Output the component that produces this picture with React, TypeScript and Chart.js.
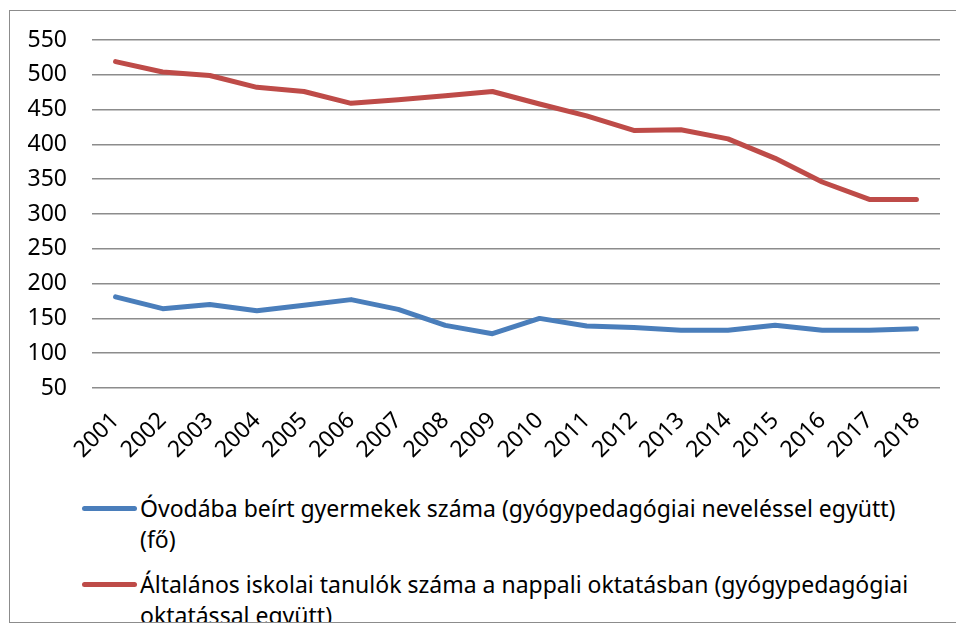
import React, { useEffect, useRef } from "react";
import { Chart, registerables } from "chart.js";

Chart.register(...registerables);

const years = ["2001","2002","2003","2004","2005","2006","2007","2008","2009","2010","2011","2012","2013","2014","2015","2016","2017","2018"];
const kindergarten = [181, 164, 170, 161, 169, 177, 163, 140, 128, 150, 139, 137, 133, 133, 140, 133, 133, 135];
const primary = [519, 504, 499, 482, 476, 459, 464, 470, 476, 458, 441, 420, 421, 408, 380, 346, 321, 321];
const seriesNames = [
  "Óvodába beírt gyermekek száma (gyógypedagógiai neveléssel együtt) (fő)",
  "Általános iskolai tanulók száma a nappali oktatásban (gyógypedagógiai oktatással együtt)",
];
const colors = ["#4A7EBB", "#BE4B48"];
const yMin = 50;
const yMax = 550;
const yStep = 50;

const FONT = "'Noto Sans', 'Open Sans', sans-serif";

export default function App() {
  const ref = useRef<HTMLCanvasElement | null>(null);

  useEffect(() => {
    const canvas = ref.current;
    if (!canvas) return;
    const chart = new Chart(canvas, {
      type: "line",
      data: {
        labels: years,
        datasets: [
          {
            label: seriesNames[0],
            data: kindergarten,
            borderColor: colors[0],
            backgroundColor: colors[0],
            borderWidth: 5,
            pointRadius: 0,
            tension: 0,
            borderCapStyle: "round",
            borderJoinStyle: "round",
          },
          {
            label: seriesNames[1],
            data: primary,
            borderColor: colors[1],
            backgroundColor: colors[1],
            borderWidth: 5,
            pointRadius: 0,
            tension: 0,
            borderCapStyle: "round",
            borderJoinStyle: "round",
          },
        ],
      },
      options: {
        responsive: false,
        animation: false,
        devicePixelRatio: 1,
        layout: { padding: { top: 29, right: 16, left: 0, bottom: 0 } },
        plugins: {
          legend: { display: false },
          tooltip: { enabled: false },
        },
        scales: {
          x: {
            offset: true,
            grid: { display: false, drawTicks: false },
            border: { display: false },
            ticks: {
              minRotation: 45,
              maxRotation: 45,
              autoSkip: false,
              padding: 19,
              color: "#000",
              font: { family: FONT, size: 23 },
            },
            afterFit: (s: any) => {
              s.height = 88;
            },
          },
          y: {
            min: yMin,
            max: yMax,
            grid: { color: "#8C8C8C", lineWidth: 1.5, drawTicks: false },
            border: { display: false },
            ticks: {
              stepSize: yStep,
              padding: 25,
              color: "#000",
              font: { family: FONT, size: 23 },
            },
            afterFit: (s: any) => {
              s.width = 82;
              s.paddingTop = 0;
              s.paddingBottom = 0;
            },
          },
        },
      },
    });
    return () => chart.destroy();
  }, []);

  const legendText: React.CSSProperties = {
    fontFamily: FONT,
    fontSize: 23,
    lineHeight: "31px",
    color: "#000",
    width: 785,
  };

  return (
    <div
      style={{
        position: "fixed",
        left: 9,
        top: 10,
        width: 960,
        height: 611,
        borderTop: "1px solid #8C8C8C",
        borderLeft: "1px solid #8C8C8C",
        borderBottom: "1px solid #8C8C8C",
        background: "#fff",
        overflow: "hidden",
      }}
    >
      <canvas ref={ref} width={946} height={465} style={{ position: "absolute", left: 0, top: 0 }} />
      <div style={{ position: "absolute", left: 72, top: 482 }}>
        {seriesNames.map((name, i) => (
          <div key={i} style={{ display: "flex", alignItems: "flex-start", marginBottom: 14 }}>
            <div
              style={{
                width: 55,
                height: 5,
                borderRadius: 3,
                background: colors[i],
                marginTop: 13,
                marginRight: 3,
                flex: "none",
              }}
            />
            <div style={legendText}>{name}</div>
          </div>
        ))}
      </div>
    </div>
  );
}
